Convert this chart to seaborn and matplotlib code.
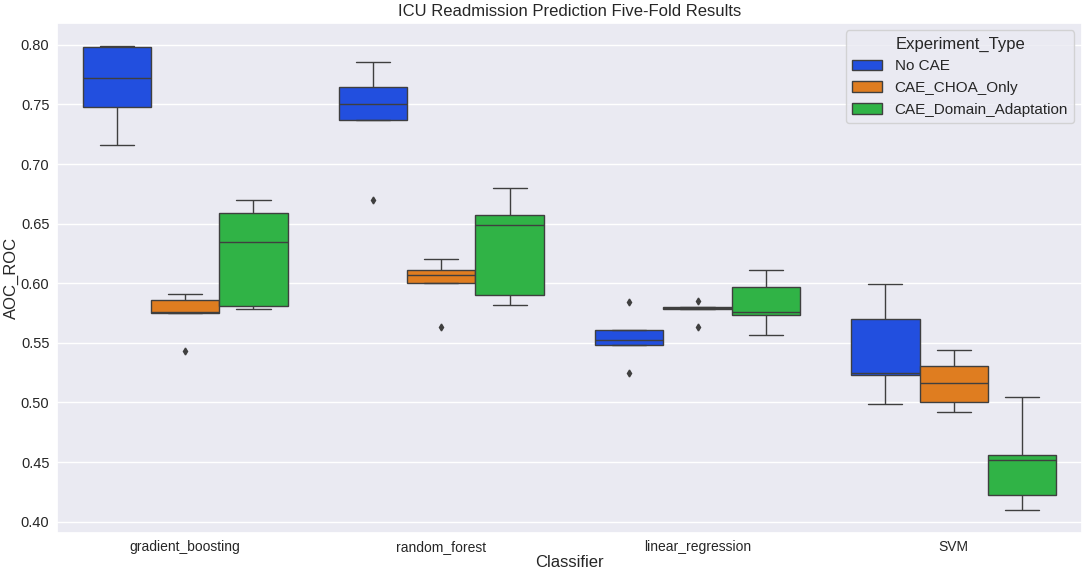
import pandas as pd
import matplotlib
matplotlib.use("Agg")
import matplotlib.pyplot as plt
import seaborn as sns

# five-fold AUC values
classifiers = ["gradient_boosting", "random_forest", "linear_regression", "SVM"]
experiments = ["No CAE", "CAE_CHOA_Only", "CAE_Domain_Adaptation"]

no_cae = {
    "gradient_boosting": [0.716, 0.748, 0.772, 0.798, 0.799],
    "random_forest": [0.670, 0.737, 0.750, 0.765, 0.786],
    "linear_regression": [0.525, 0.548, 0.552, 0.561, 0.584],
    "SVM": [0.499, 0.523, 0.525, 0.570, 0.599],
}
choa_only = {
    "gradient_boosting": [0.543, 0.575, 0.576, 0.586, 0.591],
    "random_forest": [0.563, 0.600, 0.607, 0.611, 0.620],
    "linear_regression": [0.563, 0.578, 0.579, 0.580, 0.585],
    "SVM": [0.492, 0.500, 0.516, 0.531, 0.544],
}
domain_adapt = {
    "gradient_boosting": [0.578, 0.581, 0.635, 0.659, 0.670],
    "random_forest": [0.582, 0.590, 0.649, 0.657, 0.680],
    "linear_regression": [0.557, 0.573, 0.576, 0.597, 0.611],
    "SVM": [0.410, 0.422, 0.452, 0.456, 0.505],
}

# long format table
rows = []
for exp, d in zip(experiments, [no_cae, choa_only, domain_adapt]):
    for clf in classifiers:
        for v in d[clf]:
            rows.append({"Classifier": clf, "Experiment_Type": exp, "AOC_ROC": v})
df = pd.DataFrame(rows)

sns.set_theme(style="darkgrid")
plt.rcParams["font.family"] = ["Liberation Sans", "DejaVu Sans"]

fig, ax = plt.subplots(figsize=(10.84, 5.71), dpi=100)
sns.boxplot(
    data=df, x="Classifier", y="AOC_ROC", hue="Experiment_Type",
    order=classifiers, hue_order=experiments, palette="bright",
    saturation=0.75, linecolor="#3f3f3f", linewidth=1.0,
    flierprops={"marker": "d", "markersize": 3.5,
                "markerfacecolor": "#3f3f3f", "markeredgecolor": "#3f3f3f"},
    ax=ax,
)
ax.set_title("ICU Readmission Prediction Five-Fold Results", fontsize=12, pad=5)
ax.set_xlabel("Classifier", fontsize=12, labelpad=1)
ax.set_ylabel("AOC_ROC", fontsize=12, labelpad=1)
ax.tick_params(axis="x", labelsize=10, length=0, pad=5)
ax.tick_params(axis="y", labelsize=10.5, length=0, pad=5.5)
ax.legend(title="Experiment_Type", loc="upper right", fontsize=11, title_fontsize=12)
fig.subplots_adjust(left=0.0526, right=0.998, top=0.96, bottom=0.0666)
plt.savefig("out.png", dpi=100)
